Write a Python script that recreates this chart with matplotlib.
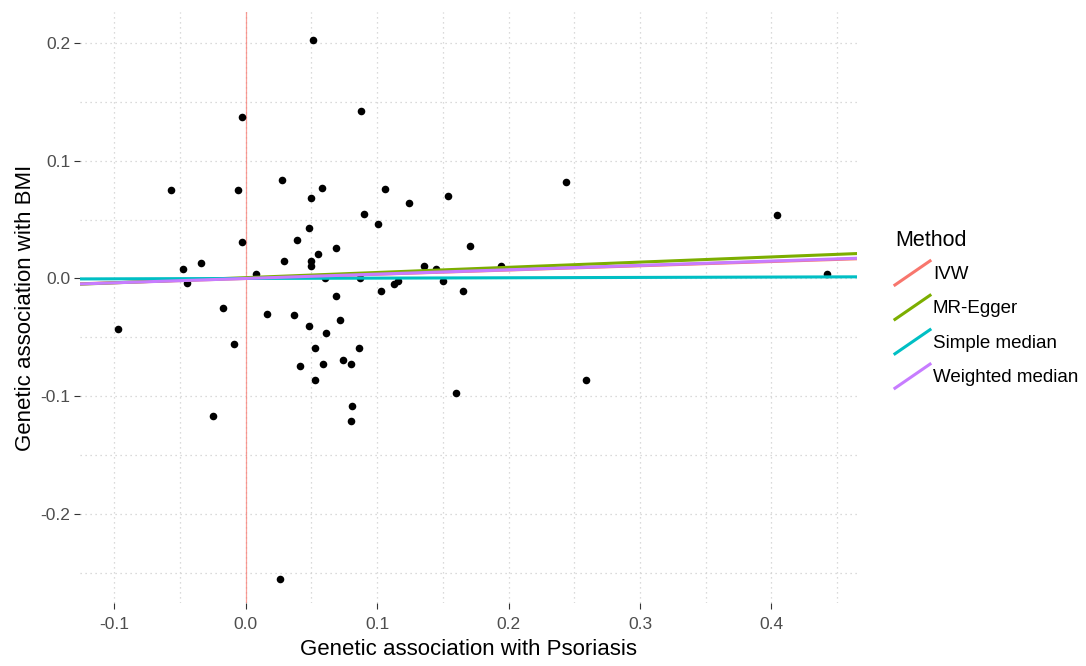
import matplotlib
matplotlib.use("Agg")
import matplotlib.pyplot as plt
from matplotlib.lines import Line2D
from matplotlib.legend_handler import HandlerBase
from matplotlib.ticker import MultipleLocator

plt.rcParams["font.family"] = ["Liberation Sans", "DejaVu Sans"]

# ── data ───────────────────────────────────────────────────────────────────
bx = [0.051, 0.088, -0.003, -0.057, -0.006, 0.028, 0.058, 0.050, 0.106, 0.124,
      0.154, 0.090, 0.101, 0.048, 0.039, -0.003, 0.171, 0.069, 0.055, 0.029,
      0.050, 0.050, -0.034, -0.048, 0.136, 0.145, 0.008, -0.045, 0.060, 0.087,
      0.150, 0.113, 0.116, 0.103, 0.165, 0.069, -0.017, 0.016, 0.037, 0.072,
      0.048, 0.061, -0.097, -0.009, 0.053, 0.086, 0.041, 0.059, 0.074, 0.080,
      0.053, 0.160, 0.081, 0.080, -0.025, 0.026, 0.194, 0.244, 0.404, 0.442,
      0.259]
by = [0.203, 0.142, 0.137, 0.075, 0.075, 0.084, 0.077, 0.068, 0.076, 0.064,
      0.070, 0.055, 0.046, 0.043, 0.033, 0.031, 0.028, 0.026, 0.021, 0.015,
      0.015, 0.011, 0.013, 0.008, 0.011, 0.008, 0.004, -0.004, 0.000, 0.000,
      -0.002, -0.005, -0.002, -0.011, -0.011, -0.015, -0.025, -0.030, -0.031, -0.035,
      -0.040, -0.046, -0.043, -0.056, -0.059, -0.059, -0.074, -0.073, -0.069, -0.073,
      -0.086, -0.097, -0.108, -0.121, -0.117, -0.255, 0.011, 0.082, 0.054, 0.004,
      -0.086]

methods    = ["IVW", "MR-Egger", "Simple median", "Weighted median"]
intercepts = [0.0, 0.0007, 0.0, 0.0]
slopes     = [0.036, 0.044, 0.003, 0.037]
colors     = ["#F8766D", "#7CAE00", "#00BFC4", "#C77CFF"]


class DiagHandler(HandlerBase):
    """ggplot-style diagonal key for abline legends."""
    def create_artists(self, legend, orig_handle, xdescent, ydescent,
                       width, height, fontsize, trans):
        ln = Line2D([-xdescent, -xdescent + width], [-ydescent, -ydescent + height],
                    color=orig_handle.get_color(), lw=orig_handle.get_linewidth(),
                    transform=trans)
        return [ln]


fig = plt.figure(figsize=(10.86, 6.66), dpi=100)
ax = fig.add_axes([0.0737, 0.0946, 0.7153, 0.8874])

ax.set_xlim(-0.126, 0.465)
ax.set_ylim(-0.2757, 0.2264)
ax.xaxis.set_major_locator(MultipleLocator(0.1))
ax.xaxis.set_minor_locator(MultipleLocator(0.05))
ax.yaxis.set_major_locator(MultipleLocator(0.1))
ax.yaxis.set_minor_locator(MultipleLocator(0.05))
ax.grid(which="both", color="#CFCFCF", linestyle=(0, (1, 3)), linewidth=0.9)
ax.set_axisbelow(True)
for s in ax.spines.values():
    s.set_visible(False)
ax.tick_params(which="major", length=4, width=0.8, color="#333333",
               labelcolor="#4D4D4D", labelsize=12.5, pad=3)
ax.tick_params(axis="x", which="major", pad=6)
ax.tick_params(which="minor", length=0)
ax.xaxis.set_major_formatter(plt.FuncFormatter(lambda v, p: f"{v:.1f}"))
ax.yaxis.set_major_formatter(plt.FuncFormatter(lambda v, p: f"{v:.1f}"))

ax.axvline(0, color="#F8766D", lw=0.9, alpha=0.7, zorder=1)
ax.scatter(bx, by, s=30, color="black", zorder=3, linewidths=0)

handles = []
for m, a, b, c in zip(methods, intercepts, slopes, colors):
    ax.axline((0, a), slope=b, color=c, lw=2.2, zorder=4)
    handles.append(Line2D([], [], color=c, lw=2.2, label=m))

ax.set_xlabel("Genetic association with Psoriasis", fontsize=16, labelpad=5)
ax.set_ylabel("Genetic association with BMI", fontsize=16, labelpad=3)

leg = fig.legend(handles=handles, title="Method", loc="upper left",
                 bbox_to_anchor=(0.812, 0.675), frameon=False, fontsize=13.5,
                 title_fontsize=15.5, handlelength=1.87, handleheight=1.6,
                 labelspacing=0.55, handletextpad=0.15, borderpad=0.2,
                 handler_map={Line2D: DiagHandler()})
leg._legend_box.align = "left"

plt.savefig("out.png", dpi=100)
